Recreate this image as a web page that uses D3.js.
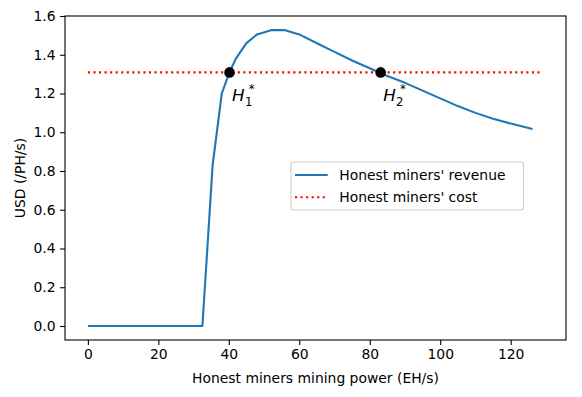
<!DOCTYPE html>
<html><head><meta charset="utf-8">
<script src="https://cdn.jsdelivr.net/npm/d3@7"></script>
<style>body{margin:0;background:#fff;} text{font-family:"DejaVu Sans",sans-serif;}</style>
</head><body><svg id="c" width="582" height="397"></svg>
<script>
const hashPower = [0, 32.5, 35.4, 38, 40.2, 42, 45, 48, 52, 56, 60, 66, 70, 75, 80, 85, 90, 95, 100, 105, 110, 115, 120, 126.2];
const revenue   = [0, 0, 0.83, 1.2, 1.31, 1.38, 1.46, 1.505, 1.527, 1.527, 1.505, 1.45, 1.415, 1.37, 1.33, 1.29, 1.255, 1.215, 1.175, 1.135, 1.10, 1.07, 1.045, 1.017];
const costX = [0, 128.6];
const cost = 1.309;
const eqX = [40.2, 83.1];
const eqLabels = ["1", "2"];
const xTicks = [0, 20, 40, 60, 80, 100, 120];
const yTicks = [0, 0.2, 0.4, 0.6, 0.8, 1.0, 1.2, 1.4, 1.6];
const legendLabels = ["Honest miners' revenue", "Honest miners' cost"];

const svg = d3.select("#c");
const L = 65, R = 566, T = 16, B = 340;
const x = d3.scaleLinear().domain([-6.5, 135.7]).range([L, R]);
const y = d3.scaleLinear().domain([-0.0723, 1.6]).range([B, T]);
const fs = 13.9;

// axes
const xa = svg.append("g").attr("transform", `translate(0,${B})`)
  .call(d3.axisBottom(x).tickValues(xTicks).tickSize(4.9).tickPadding(4.5).tickFormat(d3.format("d")));
const ya = svg.append("g").attr("transform", `translate(${L},0)`)
  .call(d3.axisLeft(y).tickValues(yTicks).tickSize(4.9).tickPadding(4.5).tickFormat(d3.format(".1f")));
[xa, ya].forEach(g => {
  g.select(".domain").remove();
  g.selectAll("line").attr("stroke", "#000").attr("stroke-width", 1.1);
  g.selectAll("text").attr("font-size", fs).attr("fill", "#000").attr("font-family", "DejaVu Sans");
});
svg.append("rect").attr("x", L).attr("y", T).attr("width", R - L).attr("height", B - T)
  .attr("fill", "none").attr("stroke", "#000").attr("stroke-width", 1.1);

// cost line
svg.append("line").attr("x1", x(costX[0])).attr("x2", x(costX[1])).attr("y1", y(cost)).attr("y2", y(cost))
  .attr("stroke", "red").attr("stroke-width", 2.1).attr("stroke-dasharray", "2.1,3.45");

// revenue line
const data = hashPower.map((h, i) => [h, revenue[i]]);
svg.append("path").datum(data).attr("fill", "none").attr("stroke", "#1f77b4").attr("stroke-width", 2.1)
  .attr("stroke-linejoin", "round")
  .attr("d", d3.line().x(d => x(d[0])).y(d => y(d[1])));

// equilibrium points
eqX.forEach((ex, i) => {
  const cx = x(ex), cy = y(cost);
  svg.append("circle").attr("cx", cx).attr("cy", cy).attr("r", 5.3).attr("fill", "#000");
  const tx = cx + 2.5, ty = cy + 29;
  const t = svg.append("text").attr("x", tx).attr("y", ty).attr("font-size", 16.7);
  t.append("tspan").attr("font-style", "italic").text("H");
  t.append("tspan").attr("font-size", 11.7).attr("dx", 0.3).attr("dy", 4.3).text(eqLabels[i]);
  t.append("tspan").attr("font-size", 11.7).attr("dx", -3.6).attr("dy", -12.3).text("*");
});

// legend
const lg = svg.append("g");
lg.append("rect").attr("x", 291).attr("y", 162).attr("width", 232.5).attr("height", 48).attr("rx", 3)
  .attr("fill", "#fff").attr("fill-opacity", 0.8).attr("stroke", "#cccccc").attr("stroke-width", 1.1);
const rows = [175, 197.3];
lg.append("line").attr("x1", 295).attr("x2", 327.7).attr("y1", rows[0]).attr("y2", rows[0])
  .attr("stroke", "#1f77b4").attr("stroke-width", 2.1);
lg.append("line").attr("x1", 295).attr("x2", 327.7).attr("y1", rows[1]).attr("y2", rows[1])
  .attr("stroke", "red").attr("stroke-width", 2.1).attr("stroke-dasharray", "2.1,3.45");
legendLabels.forEach((t, i) => {
  lg.append("text").attr("x", 339.3).attr("y", rows[i] + 5).attr("font-size", fs).text(t);
});

// axis labels
svg.append("text").attr("x", (L + R) / 2).attr("y", 383).attr("text-anchor", "middle").attr("font-size", fs)
  .text("Honest miners mining power (EH/s)");
svg.append("text").attr("transform", `translate(25,${(T + B) / 2}) rotate(-90)`).attr("text-anchor", "middle")
  .attr("font-size", fs).text("USD (/PH/s)");
</script></body></html>
